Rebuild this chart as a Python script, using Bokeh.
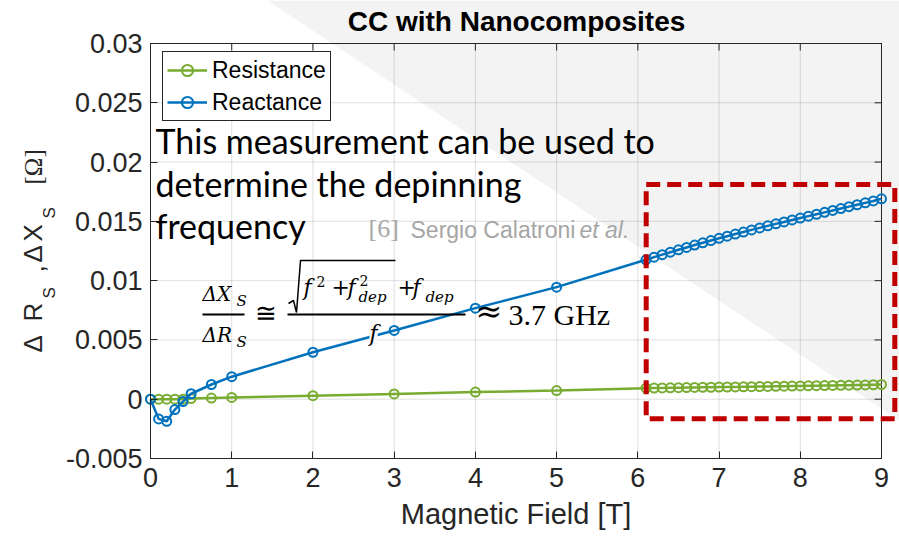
import math

from bokeh.embed import file_html
from bokeh.models import BoxAnnotation, FixedTicker, Label, Range1d
from bokeh.plotting import figure
from bokeh.resources import INLINE

# ---- data -------------------------------------------------------------
field_T = [0, 0.1, 0.2, 0.3, 0.4, 0.5, 0.75, 1, 2, 3, 4, 5,
           6.1, 6.2, 6.3, 6.4, 6.5, 6.6, 6.7, 6.8, 6.9, 7.0,
           7.1, 7.2, 7.3, 7.4, 7.5, 7.6, 7.7, 7.8, 7.9, 8.0,
           8.1, 8.2, 8.3, 8.4, 8.5, 8.6, 8.7, 8.8, 8.9, 9.0]

resistance = [0, 0.0, 0.0, 0.0, 0.0, 0.00005, 0.0001, 0.00015, 0.0003, 0.00045, 0.0006, 0.00073,
              0.00093, 0.00094, 0.00095, 0.00096, 0.00097, 0.00098, 0.00099, 0.00100, 0.00101, 0.00102,
              0.00103, 0.00104, 0.00105, 0.00106, 0.00107, 0.00108, 0.00109, 0.00110, 0.00111, 0.00112,
              0.00113, 0.00114, 0.00115, 0.00116, 0.00117, 0.00118, 0.00119, 0.00120, 0.00122, 0.00124]

reactance = [0, -0.00166, -0.00186, -0.00087, -0.0002, 0.00046, 0.00124, 0.0019, 0.00396, 0.0058, 0.00768, 0.00945,
             0.01176, 0.01198, 0.01219, 0.01240, 0.01260, 0.01280, 0.01300, 0.01319, 0.01338, 0.01357,
             0.01375, 0.01393, 0.01410, 0.01428, 0.01445, 0.01462, 0.01479, 0.01495, 0.01512, 0.01528,
             0.01544, 0.01560, 0.01576, 0.01592, 0.01608, 0.01624, 0.01640, 0.01656, 0.01672, 0.01690]

x_ticks = [0, 1, 2, 3, 4, 5, 6, 7, 8, 9]
y_ticks = [-0.005, 0, 0.005, 0.01, 0.015, 0.02, 0.025, 0.03]
y_tick_labels = ["-0.005", "0", "0.005", "0.01", "0.015", "0.02", "0.025", "0.03"]

# ---- geometry ---------------------------------------------------------
W, H = 899, 538
INK = "#262626"
GREEN = "#77AC30"
BLUE = "#0072BD"
SANS = "Liberation Sans"
SERIF = "DejaVu Serif"
TIMES = "Liberation Serif"

X0, X1 = 0, 9
Y0, Y1 = -0.005, 0.03
AL, AR, AT, AB = 150, 881, 43, 458   # axes box on the canvas (px)


def dx(px):
    return X0 + (px - AL) / (AR - AL) * (X1 - X0)


def dy(py):
    return Y1 - (py - AT) / (AB - AT) * (Y1 - Y0)


def len_x(px):
    return px / (AR - AL) * (X1 - X0)


def len_y(px):
    return px / (AB - AT) * (Y1 - Y0)


# the frame spans the whole canvas; the axes are pinned to the box edges
p = figure(width=W, height=H, x_range=Range1d(dx(0), dx(W)), y_range=Range1d(dy(H), dy(0)),
           output_backend="svg", toolbar_location=None, min_border=0,
           background_fill_color="white", border_fill_color="white",
           outline_line_color=None)
p.grid.visible = False

# light grey slide corner behind everything
p.patch([dx(267), dx(W), dx(W)], [dy(0), dy(0), dy(420)],
        fill_color="#f3f3f3", line_color=None, level="underlay")

# grid
p.segment(x0=x_ticks, y0=[Y0] * len(x_ticks), x1=x_ticks, y1=[Y1] * len(x_ticks),
          line_color=INK, line_alpha=0.15, line_width=1, level="underlay")
p.segment(x0=[X0] * len(y_ticks), y0=y_ticks, x1=[X1] * len(y_ticks), y1=y_ticks,
          line_color=INK, line_alpha=0.15, line_width=1, level="underlay")

xt = FixedTicker(ticks=x_ticks)
yt = FixedTicker(ticks=y_ticks)

xa = p.xaxis[0]
xa.ticker = xt
xa.fixed_location = Y0
xa.bounds = (X0, X1)
xa.axis_label = "Magnetic Field [T]"
xa.axis_label_text_font = SANS
xa.axis_label_text_font_size = "29px"
xa.axis_label_text_font_style = "normal"
xa.axis_label_text_color = INK
xa.axis_label_standoff = 8
xa.major_label_standoff = 9

ya = p.yaxis[0]
ya.ticker = yt
ya.fixed_location = X0
ya.bounds = (Y0, Y1)
ya.major_label_overrides = dict(zip(y_ticks, y_tick_labels))
ya.major_label_standoff = 8

for ax in (xa, ya):
    ax.major_label_text_font = SANS
    ax.major_label_text_font_size = "27px"
    ax.major_label_text_color = INK
    ax.axis_line_color = INK
    ax.major_tick_line_color = INK
    ax.major_tick_in = 7
    ax.major_tick_out = 0
    ax.minor_tick_line_color = None

# top and right edges of the box with inward ticks
p.segment(x0=[X0, X1], y0=[Y1, Y0], x1=[X1, X1], y1=[Y1, Y1], line_color=INK, line_width=1)
p.segment(x0=x_ticks, y0=[Y1] * len(x_ticks), x1=x_ticks,
          y1=[Y1 - len_y(7)] * len(x_ticks), line_color=INK, line_width=1)
p.segment(x0=[X1] * len(y_ticks), y0=y_ticks, x1=[X1 - len_x(7)] * len(y_ticks),
          y1=y_ticks, line_color=INK, line_width=1)

# ---- series -----------------------------------------------------------
p.line(field_T, resistance, line_color=GREEN, line_width=2.5, legend_label="Resistance")
p.scatter(field_T, resistance, marker="circle", size=9, fill_color=None,
          line_color=GREEN, line_width=2, legend_label="Resistance")
p.line(field_T, reactance, line_color=BLUE, line_width=2.5, legend_label="Reactance")
p.scatter(field_T, reactance, marker="circle", size=9, fill_color=None,
          line_color=BLUE, line_width=2, legend_label="Reactance")

lg = p.legend[0]
lg.location = (162, H - 121)
lg.margin = 0
lg.padding = 4
lg.spacing = 4
lg.glyph_width = 40
lg.glyph_height = 28
lg.label_height = 28
lg.label_standoff = 5
lg.label_text_font = SANS
lg.label_text_font_size = "23px"
lg.label_text_color = "#000000"
lg.border_line_color = INK
lg.border_line_width = 1
lg.border_line_alpha = 1.0
lg.background_fill_color = "white"
lg.background_fill_alpha = 1.0

# highlighted high-field region
p.add_layout(BoxAnnotation(left=dx(645.7), right=dx(894.3), top=dy(184), bottom=dy(418.3),
                           fill_alpha=0, line_color="#C00000", line_alpha=1.0,
                           line_width=5, line_dash="14 7"))

# ---- text helpers -----------------------------------------------------
LIFT = 0.38   # baseline correction, fraction of the font size


def txt(px, py, s, size, font=SANS, style="normal", color="#000000",
        align="left", bg=None):
    p.add_layout(Label(x=dx(px), y=dy(py - LIFT * size), text=s, text_font=font,
                       text_font_size=f"{size}px", text_font_style=style,
                       text_color=color, text_align=align, text_baseline="alphabetic",
                       background_fill_color=bg))


def vtxt(px, py, s, size, font=SANS, color=INK):
    p.add_layout(Label(x=dx(px - LIFT * size), y=dy(py), text=s, text_font=font,
                       text_font_size=f"{size}px", text_color=color,
                       text_align="left", text_baseline="alphabetic",
                       angle=math.pi / 2))


txt(516, 32, "CC with Nanocomposites", 28, style="bold", align="center")

# y-axis label, built from pieces so the subscripts sit right
vtxt(42, 352, "Δ", 26)
vtxt(42, 321, "R", 26)
vtxt(55, 298, "S", 17)
vtxt(44, 272, ",", 26)
vtxt(42, 262, "Δ", 26)
vtxt(42, 241, "X", 26)
vtxt(55, 218, "S", 17)
vtxt(42, 184, "[Ω]", 25, font=TIMES)

# explanatory note
txt(155, 153, "This measurement can be used to", 34, font="Lato")
txt(155, 196, "determine the depinning", 34, font="Lato")
txt(155, 238, "frequency", 34, font="Lato")
txt(368, 238, "[6]", 26, font=TIMES, color="#A6A6A6")
txt(410, 238, "Sergio Calatroni", 23, color="#A6A6A6")
txt(579, 238, "et al.", 23, style="italic", color="#A6A6A6")

# depinning-frequency relation
txt(202, 301, "ΔX", 20, font=SERIF, style="italic")
txt(236, 306, "S", 15, font=SERIF, style="italic")
txt(202, 342, "ΔR", 20, font=SERIF, style="italic")
txt(236, 347, "S", 15, font=SERIF, style="italic")
txt(265, 322, "≅", 26, font=SERIF, align="center")
txt(303, 295, "f", 22, font=SERIF, style="italic")
txt(316, 286, "2", 14, font=SERIF)
txt(331, 295, "+", 22, font=SERIF)
txt(347, 295, "f", 22, font=SERIF, style="italic")
txt(359, 285, "2", 14, font=SERIF)
txt(358, 302, "dep", 15, font=SERIF, style="italic")
txt(397, 295, "+", 22, font=SERIF)
txt(412, 295, "f", 22, font=SERIF, style="italic")
txt(425, 302, "dep", 15, font=SERIF, style="italic")
txt(369, 341, "f", 22, font=SERIF, style="italic", bg="#f7f7f7")
txt(475, 323, "≈", 32, font=SERIF)
txt(508, 325, "3.7 GHz", 30, font=TIMES)

# fraction bars and radical
p.segment(x0=[dx(202), dx(287)], y0=[dy(314), dy(314)],
          x1=[dx(244), dx(465)], y1=[dy(314), dy(314)],
          line_color="#000000", line_width=2)
p.line([dx(288), dx(293), dx(296), dx(300), dx(395)],
       [dy(303), dy(300), dy(312), dy(260), dy(260)],
       line_color="#000000", line_width=1.5)

open("out.html", "w").write(file_html(p, INLINE))
